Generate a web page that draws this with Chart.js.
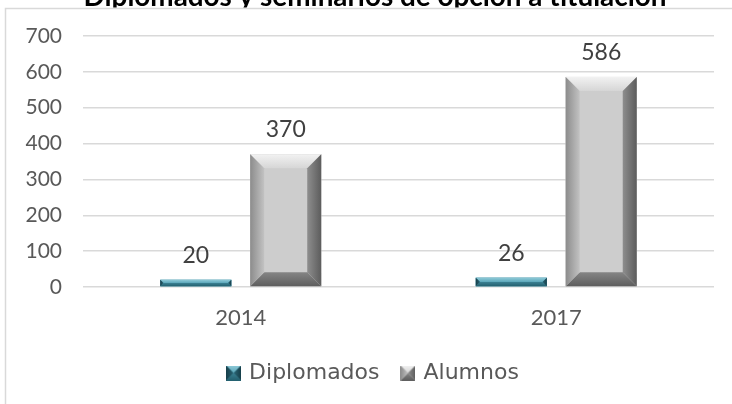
<!DOCTYPE html>
<html>
<head>
<meta charset="utf-8">
<script src="https://cdn.jsdelivr.net/npm/chart.js@4/dist/chart.umd.min.js"></script>
<style>
  html, body { margin: 0; padding: 0; background: #fff; }
  #wrap { width: 732px; height: 404px; }
</style>
</head>
<body>
<div id="wrap"><canvas id="myChart" width="732" height="404"></canvas></div>
<script>
// Data
const years = ['2014', '2017'];
const diplomados = [20, 26];
const alumnos = [370, 586];
const seriesNames = ['Diplomados', 'Alumnos'];
const yMax = 700;
const yStep = 100;
const chartTitle = 'Diplomados y seminarios de opción a titulación';

// Bevel colours: face, then [outer, inner] for each side
const tealBevel = {
  face: '#4896aa', top: ['#8fcad8', '#5aa6b9'], bottom: ['#23606f', '#3a8092'],
  left: ['#163e49', '#2a6575'], right: ['#163e49', '#2a6575']
};
const grayBevel = {
  face: '#cdcdcd', top: ['#f2f2f2', '#d6d6d6'], bottom: ['#5e5e5e', '#858585'],
  left: ['#8c8c8c', '#c2c2c2'], right: ['#5c5c5c', '#8e8e8e']
};
const bevels = [tealBevel, grayBevel];

const textColor = '#595959';
const numFont = 'Lato, "Open Sans", sans-serif';
const legendFont = '"DejaVu Sans", sans-serif';

function poly(ctx, pts, fill) {
  ctx.beginPath();
  ctx.moveTo(pts[0][0], pts[0][1]);
  for (let i = 1; i < pts.length; i++) ctx.lineTo(pts[i][0], pts[i][1]);
  ctx.closePath();
  ctx.fillStyle = fill;
  ctx.fill();
}

function grad(ctx, xa, ya, xb, yb, cols) {
  const g = ctx.createLinearGradient(xa, ya, xb, yb);
  g.addColorStop(0, cols[0]);
  g.addColorStop(1, cols[1]);
  return g;
}

function drawBevel(ctx, x0, y0, x1, y1, c, size) {
  const b = Math.min(size, (y1 - y0) / 2, (x1 - x0) / 2);
  ctx.fillStyle = c.face;
  ctx.fillRect(x0, y0, x1 - x0, y1 - y0);
  poly(ctx, [[x0, y0], [x1, y0], [x1 - b, y0 + b], [x0 + b, y0 + b]], grad(ctx, 0, y0, 0, y0 + b, c.top));
  poly(ctx, [[x0, y1], [x1, y1], [x1 - b, y1 - b], [x0 + b, y1 - b]], grad(ctx, 0, y1, 0, y1 - b, c.bottom));
  poly(ctx, [[x0, y0], [x0 + b, y0 + b], [x0 + b, y1 - b], [x0, y1]], grad(ctx, x0, 0, x0 + b, 0, c.left));
  poly(ctx, [[x1, y0], [x1 - b, y0 + b], [x1 - b, y1 - b], [x1, y1]], grad(ctx, x1, 0, x1 - b, 0, c.right));
}

function makeIcon(c) {
  const cv = document.createElement('canvas');
  cv.width = 15;
  cv.height = 15;
  drawBevel(cv.getContext('2d'), 0, 0, 15, 15, c, 7.5);
  return cv;
}
const icons = bevels.map(makeIcon);

// Frame and cut-off title
const framePlugin = {
  id: 'frame',
  afterLayout(chart) {
    // legend is centred on the wider original chart area
    chart.legend.left += 12;
    chart.legend.right += 12;
  },
  beforeDraw(chart) {
    const ctx = chart.ctx;
    ctx.save();
    ctx.strokeStyle = '#d9d9d9';
    ctx.lineWidth = 1.5;
    ctx.beginPath();
    ctx.moveTo(5.5, chart.height);
    ctx.lineTo(5.5, 8.5);
    ctx.lineTo(chart.width, 8.5);
    ctx.stroke();

    ctx.beginPath();
    ctx.rect(0, 0, chart.width, 7.5);
    ctx.clip();
    ctx.font = 'bold 24px ' + numFont;
    const w = ctx.measureText(chartTitle).width;
    const size = 24 * 583 / w;
    ctx.font = 'bold ' + size + 'px ' + numFont;
    ctx.fillStyle = '#000';
    ctx.textAlign = 'center';
    ctx.textBaseline = 'alphabetic';
    ctx.fillText(chartTitle, 375, 6);
    ctx.restore();
  }
};

// Bevelled bars and value labels
const barPlugin = {
  id: 'bevelBars',
  afterDatasetsDraw(chart) {
    const ctx = chart.ctx;
    ctx.save();
    chart.data.datasets.forEach((ds, i) => {
      const meta = chart.getDatasetMeta(i);
      meta.data.forEach((el, j) => {
        const x0 = el.x - el.width / 2;
        const x1 = el.x + el.width / 2;
        drawBevel(ctx, x0, el.y, x1, el.base, bevels[i], 14);
        ctx.fillStyle = '#404040';
        ctx.font = '23px ' + numFont;
        ctx.textAlign = 'center';
        ctx.textBaseline = 'alphabetic';
        ctx.fillText(ds.data[j], el.x, el.y - 17);
      });
    });
    ctx.restore();
  }
};

new Chart(document.getElementById('myChart'), {
  type: 'bar',
  data: {
    labels: years,
    datasets: [
      { label: seriesNames[0], data: diplomados, backgroundColor: tealBevel.face },
      { label: seriesNames[1], data: alumnos, backgroundColor: grayBevel.face }
    ]
  },
  options: {
    responsive: false,
    animation: false,
    categoryPercentage: 0.57,
    barPercentage: 0.79,
    layout: { padding: { left: 10, right: 18, top: 36, bottom: 10 } },
    scales: {
      x: {
        grid: { display: false },
        border: { display: false },
        ticks: { color: textColor, font: { family: numFont, size: 22 }, padding: 10 },
        afterFit(scale) { scale.height = 51; }
      },
      y: {
        min: 0,
        max: yMax,
        grid: { color: '#d9d9d9', lineWidth: 1.5, drawTicks: false },
        border: { display: false },
        ticks: { stepSize: yStep, color: textColor, font: { family: numFont, size: 21 }, padding: 21 },
        afterFit(scale) { scale.width = 73; }
      }
    },
    plugins: {
      legend: {
        position: 'bottom',
        labels: {
          color: textColor,
          font: { family: legendFont, size: 22 },
          usePointStyle: true,
          pointStyleWidth: 9,
          padding: 24,
          generateLabels(chart) {
            const items = Chart.defaults.plugins.legend.labels.generateLabels(chart);
            items.forEach((it, i) => { it.pointStyle = icons[i]; });
            return items;
          }
        }
      },
      tooltip: { enabled: false }
    }
  },
  plugins: [framePlugin, barPlugin]
});
</script>
</body>
</html>
